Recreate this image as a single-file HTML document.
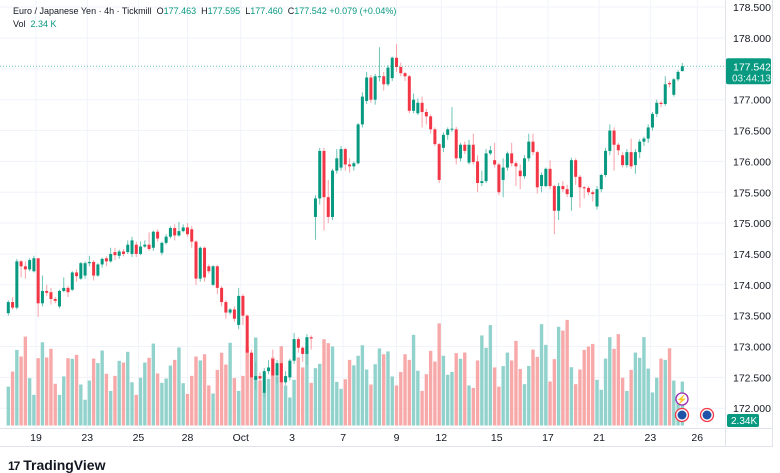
<!DOCTYPE html>
<html><head><meta charset="utf-8">
<style>
html,body{margin:0;padding:0;background:#fff;}
body{width:780px;height:470px;overflow:hidden;font-family:"Liberation Sans",sans-serif;position:relative;}
#chart{position:absolute;left:0;top:0;}
.legend{position:absolute;left:13px;font-size:9px;color:#131722;white-space:nowrap;}
.up{color:#089981;}
</style></head>
<body>
<svg id="chart" width="780" height="470"></svg>
<div class="legend" style="top:6px">Euro / Japanese Yen · 4h · Tickmill &nbsp;O<span class="up">177.463</span>&nbsp; H<span class="up">177.595</span>&nbsp; L<span class="up">177.460</span>&nbsp; C<span class="up">177.542</span> <span class="up">+0.079 (+0.04%)</span></div>
<div class="legend" style="top:19px">Vol &nbsp;<span class="up">2.34 K</span></div>
<div style="position:absolute;left:8px;top:457px;font-size:14px;font-weight:bold;color:#131722;"><span style="font-size:12px;letter-spacing:-1px">17</span>&nbsp;TradingView</div>
<script>
const opens=[173.54,173.72,173.63,174.38,174.30,174.25,174.22,174.43,173.70,173.90,173.88,173.77,173.65,173.90,173.95,173.92,174.20,174.10,174.15,174.35,174.37,174.15,174.33,174.43,174.38,174.53,174.47,174.54,174.53,174.50,174.65,174.50,174.62,174.65,174.60,174.86,174.52,174.68,174.78,174.92,174.80,174.87,174.93,174.90,174.70,174.10,174.60,174.30,174.00,174.30,173.95,173.72,173.55,173.60,173.35,173.82,173.50,172.90,172.46,172.52,172.25,172.60,172.80,172.53,172.73,172.42,172.50,172.77,173.12,172.98,172.88,173.15,175.10,175.40,176.17,175.42,175.10,175.85,175.90,176.20,175.95,175.92,175.97,176.60,176.98,177.36,177.00,177.37,177.38,177.25,177.35,177.68,177.53,177.43,177.38,176.82,176.78,176.95,176.80,176.73,176.52,176.28,176.22,176.43,176.52,176.52,176.05,176.27,175.98,176.27,176.00,175.65,175.68,176.13,176.02,175.95,175.70,175.90,176.13,175.97,175.85,175.76,176.05,176.32,176.15,175.60,175.60,175.88,175.60,175.20,175.60,175.55,175.42,176.02,175.75,175.58,175.57,175.50,175.27,175.55,175.78,176.17,176.50,176.27,176.10,175.94,176.15,175.94,176.15,176.32,176.37,176.55,176.77,176.95,176.93,177.27,177.08,177.33,177.463];
const highs=[173.75,173.80,174.42,174.40,174.38,174.43,174.47,174.43,174.15,174.00,173.95,173.80,173.92,174.12,173.98,174.22,174.25,174.37,174.38,174.47,174.40,174.35,174.44,174.46,174.60,174.60,174.57,174.58,174.72,174.78,174.70,174.70,174.72,174.85,174.88,174.90,174.70,174.82,174.95,174.98,175.02,174.98,175.00,174.95,174.72,174.62,174.62,174.33,174.32,174.32,173.98,173.75,173.62,173.65,173.95,173.85,173.52,172.95,172.75,172.58,172.65,172.78,172.95,172.78,172.76,172.60,172.80,173.22,173.15,173.00,173.20,173.18,175.45,176.22,176.22,175.70,175.88,176.20,176.25,176.22,176.05,176.00,176.62,177.12,177.45,177.40,177.42,177.85,177.45,177.56,177.70,177.90,177.60,177.45,177.40,177.10,177.02,177.05,176.85,176.76,176.55,176.30,176.47,176.55,176.88,176.56,176.30,176.32,176.35,176.45,176.10,175.85,176.20,176.25,176.30,175.98,176.05,176.16,176.30,176.00,175.95,176.10,176.45,176.45,176.17,175.82,175.90,176.02,175.62,175.65,175.68,175.62,176.06,176.05,175.78,175.60,175.60,175.53,175.60,175.80,176.22,176.60,176.55,176.30,176.15,176.20,176.37,176.20,176.36,176.40,176.60,176.80,177.00,176.98,177.38,177.30,177.35,177.48,177.595];
const lows=[173.50,173.60,173.60,174.12,174.10,174.22,174.20,173.48,173.65,173.82,173.68,173.70,173.62,173.88,173.80,173.90,174.05,174.08,174.10,174.30,174.07,174.13,174.28,174.30,174.36,174.40,174.42,174.46,174.50,174.45,174.45,174.48,174.60,174.55,174.55,174.70,174.48,174.65,174.75,174.72,174.78,174.85,174.78,174.60,174.00,174.05,174.05,174.18,173.98,173.85,173.65,173.45,173.52,173.40,173.28,173.35,172.75,172.42,172.30,172.42,172.18,172.55,172.45,172.40,172.30,172.38,172.45,172.72,172.90,172.75,172.70,172.95,174.73,175.30,174.88,175.00,175.05,175.80,175.85,175.85,175.82,175.85,175.95,176.55,176.93,176.95,176.92,177.30,177.15,177.22,177.30,177.45,177.38,177.30,176.78,176.78,176.75,176.55,176.60,176.45,176.25,175.65,176.15,176.35,176.48,175.95,176.00,176.12,175.95,175.95,175.50,175.60,175.65,176.10,175.90,175.45,175.42,175.85,175.92,175.60,175.55,175.72,176.00,176.10,175.48,175.50,175.58,175.55,174.82,175.05,175.50,175.42,175.20,175.62,175.25,175.40,175.45,175.35,175.22,175.50,175.75,176.10,175.85,176.10,175.90,175.90,175.88,175.80,176.05,176.25,176.30,176.50,176.72,176.88,176.90,177.20,177.05,177.30,177.460];
const closes=[173.72,173.63,174.38,174.30,174.25,174.40,174.43,173.70,173.90,173.87,173.77,173.74,173.90,173.95,173.88,174.20,174.14,174.35,174.35,174.37,174.15,174.33,174.42,174.38,174.50,174.48,174.54,174.50,174.65,174.72,174.50,174.62,174.65,174.58,174.86,174.75,174.68,174.78,174.92,174.80,174.87,174.93,174.82,174.70,174.10,174.60,174.12,174.22,174.30,173.95,173.72,173.55,173.60,173.45,173.82,173.50,172.90,172.50,172.52,172.48,172.60,172.66,172.53,172.73,172.42,172.52,172.77,173.12,172.98,172.88,173.15,173.13,175.40,176.17,175.42,175.10,175.85,176.05,176.20,175.95,175.92,175.97,176.60,177.05,177.36,177.00,177.38,177.38,177.25,177.52,177.68,177.53,177.43,177.38,176.82,177.00,176.95,176.80,176.73,176.52,176.28,175.70,176.43,176.52,176.53,176.05,176.27,176.17,176.27,175.99,175.65,175.68,176.13,176.18,175.95,175.50,175.90,176.13,175.97,175.92,175.76,176.05,176.32,176.15,175.58,175.78,175.88,175.60,175.20,175.60,175.55,175.47,176.02,175.75,175.58,175.57,175.50,175.47,175.55,175.78,176.17,176.50,176.27,176.18,175.94,176.15,175.92,176.15,176.32,176.37,176.55,176.77,176.95,176.93,177.25,177.25,177.33,177.45,177.542];
const volumes=[2.07,2.87,4.02,3.67,4.73,2.52,1.63,3.58,4.43,3.62,4.08,2.22,1.63,2.61,3.58,3.55,3.76,2.18,1.37,2.39,3.56,3.32,3.99,2.75,1.84,2.64,3.44,3.35,3.92,2.30,1.63,2.54,3.35,3.60,4.36,2.77,2.27,2.50,3.19,3.49,4.15,2.25,1.68,2.64,3.67,3.46,3.79,2.13,1.70,2.96,3.87,3.24,4.40,2.52,1.84,2.64,4.17,3.85,4.68,2.39,1.77,2.48,3.62,2.61,4.22,2.13,1.49,2.43,3.62,3.09,4.24,2.27,3.05,3.28,4.59,4.38,4.20,2.32,1.95,2.46,3.49,3.20,
3.71,4.27,2.98,2.18,3.26,4.10,3.79,3.94,2.61,2.13,2.85,3.79,3.49,4.82,2.91,1.84,2.73,3.97,3.40,5.43,3.71,2.70,2.85,3.85,3.55,3.88,2.13,2.00,3.46,4.79,4.13,5.34,3.09,2.07,3.16,3.88,3.46,4.50,3.01,2.20,3.17,4.04,3.65,5.39,4.29,2.34,3.53,5.25,5.05,5.62,3.10,2.20,2.98,4.02,4.20,4.34,2.43,1.90,3.56,4.70,4.08,4.86,2.54,1.84,2.96,3.88,3.60,4.70,3.03,1.76,2.54,3.56,3.49,4.11,2.39,1.63,2.34];
const priceTicks=[178.5,178.0,177.5,177.0,176.5,176.0,175.5,175.0,174.5,174.0,173.5,173.0,172.5,172.0];
const dateLabels=["19","23","25","28","Oct","3","7","9","12","15","17","21","23","26"];
const dateIndex=[6.5,18.5,30.5,42,54.5,66.5,78.5,91,101.5,114.5,126.5,138.5,150.5,161.5];
const lastPrice=177.542;

const NS="http://www.w3.org/2000/svg";
const svg=document.getElementById('chart');
const PLOT_R=725;
const xOf=i=>8.3+i*4.266;
const yOf=p=>38+(178-p)*61.7;
const VBASE=425.5, VPX=18.8;
const vy=v=>VBASE-v*VPX;
function mk(tag,attrs,parent){const e=document.createElementNS(NS,tag);for(const k in attrs)e.setAttribute(k,attrs[k]);(parent||svg).appendChild(e);return e;}

const grid=mk('g',{});


priceTicks.forEach(p=>{mk('line',{x1:0,x2:PLOT_R,y1:yOf(p),y2:yOf(p),stroke:'#f0f3fa','stroke-width':1},grid);});
dateIndex.forEach(d=>{mk('line',{x1:xOf(d),x2:xOf(d),y1:0,y2:428,stroke:'#f0f3fa','stroke-width':1},grid);});

const vg=mk('g',{});


volumes.forEach((v,i)=>{
  const up=closes[i]>=opens[i];
  const r=mk('rect',{x:xOf(i)-1.7,y:vy(v),width:3.4,height:v*VPX,fill:up?'#92d2cc':'#f7a9a9'},vg);
  
  
});

const cg=mk('g',{});


opens.forEach((o,i)=>{
  const c=closes[i],up=c>=o,col=up?'#089981':'#f23645';
  const x=xOf(i);
  const g=mk('g',{},cg);
  
  
  mk('line',{x1:x,x2:x,y1:yOf(highs[i]),y2:yOf(lows[i]),stroke:up?'#6cc4b6':'#f7a1a8','stroke-width':1},g);
  const top=yOf(Math.max(o,c)),bot=yOf(Math.min(o,c));
  mk('rect',{x:x-1.5,y:top,width:3,height:Math.max(1,bot-top),fill:col},g);
});

const lp=mk('line',{x1:0,x2:PLOT_R,y1:yOf(lastPrice),y2:yOf(lastPrice),stroke:'#089981','stroke-width':1,'stroke-dasharray':'1 2',opacity:0.6});



const ax=mk('line',{x1:PLOT_R+0.5,x2:PLOT_R+0.5,y1:0,y2:446,stroke:'#e0e3eb'});


const bx=mk('line',{x1:0,x2:772,y1:428.5,y2:428.5,stroke:'#e0e3eb'});


const fr=mk('path',{d:'M772.5 0 V446.5 H0',fill:'none',stroke:'#e0e3eb'});


priceTicks.forEach(p=>{
  const t=mk('text',{x:733,y:yOf(p)+4,'font-size':10.5,fill:'#131722','font-family':'Liberation Sans, sans-serif'});
  t.textContent=p.toFixed(3);
  
  
});
dateLabels.forEach((d,k)=>{
  const t=mk('text',{x:xOf(dateIndex[k]),y:441,'font-size':10.5,fill:'#131722','text-anchor':'middle','font-family':'Liberation Sans, sans-serif'});
  t.textContent=d;
  
  
});

const pb=mk('g',{});


mk('rect',{x:726,y:yOf(lastPrice)-8,width:45,height:26,rx:2,fill:'#089981'},pb);
const t1=mk('text',{x:733,y:yOf(lastPrice)+4,'font-size':10.5,fill:'#fff','font-family':'Liberation Sans, sans-serif'},pb);t1.textContent='177.542';
const t2=mk('text',{x:732,y:yOf(lastPrice)+15,'font-size':10,fill:'#e0f5f1','font-family':'Liberation Sans, sans-serif'},pb);t2.textContent='03:44:13';

const vb=mk('g',{});


mk('rect',{x:727,y:414,width:32,height:13,rx:2,fill:'#089981'},vb);
const t3=mk('text',{x:731,y:424,'font-size':10,fill:'#fff','font-family':'Liberation Sans, sans-serif'},vb);t3.textContent='2.34K';

const ev1=mk('circle',{cx:682,cy:399,r:6,fill:'#fff',stroke:'#9c27b0','stroke-width':1.3});


const ev1t=mk('text',{x:682,y:402.5,'font-size':9,fill:'#9c27b0','text-anchor':'middle'});ev1t.textContent='⚡';
[682,707].forEach(cx=>{
  const g=mk('g',{});
  
  
  mk('circle',{cx:cx,cy:415,r:6.5,fill:'#fff',stroke:'#f23645','stroke-width':1.3},g);
  mk('circle',{cx:cx,cy:415,r:4.5,fill:'#1e53a8'},g);
});
</script>
</body></html>
